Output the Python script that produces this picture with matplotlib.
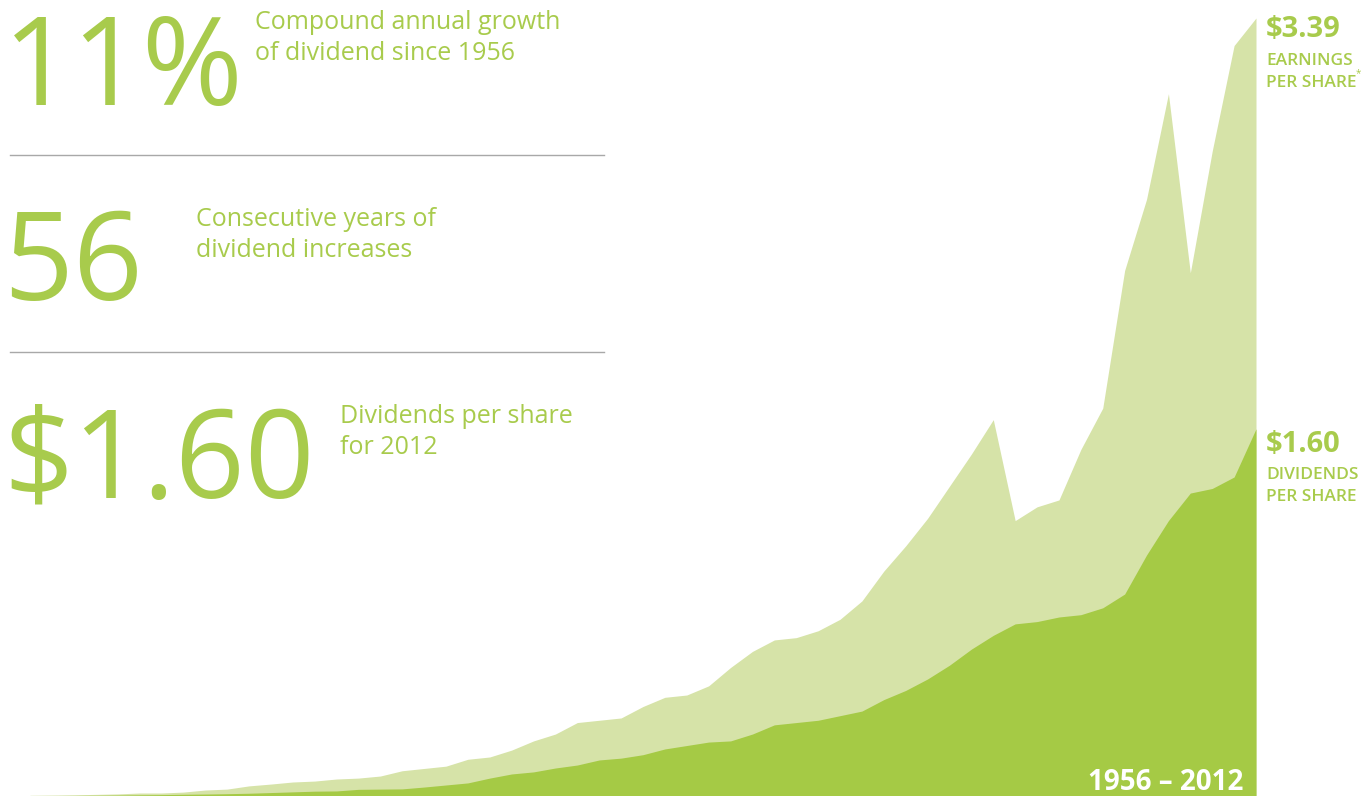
import numpy as np
import matplotlib.pyplot as plt
from matplotlib import font_manager

# годы и значения (долл. на акцию)
years = list(range(1956, 2013))
earnings = [0.003, 0.004, 0.005, 0.007, 0.009, 0.013, 0.013, 0.017, 0.026, 0.030,
            0.044, 0.052, 0.061, 0.065, 0.074, 0.078, 0.087, 0.11, 0.12, 0.13,
            0.16, 0.17, 0.20, 0.24, 0.27, 0.32, 0.33, 0.34, 0.39, 0.43,
            0.44, 0.48, 0.56, 0.63, 0.68, 0.69, 0.72, 0.77, 0.85, 0.98,
            1.09, 1.21, 1.35, 1.49, 1.64, 1.20, 1.26, 1.29, 1.51, 1.69,
            2.29, 2.60, 3.06, 2.28, 2.81, 3.27, 3.39]
dividends = [0.0015, 0.002, 0.0025, 0.003, 0.004, 0.005, 0.006, 0.0075, 0.0085, 0.010,
             0.012, 0.015, 0.018, 0.021, 0.022, 0.029, 0.030, 0.031, 0.039, 0.048,
             0.057, 0.078, 0.096, 0.105, 0.122, 0.135, 0.157, 0.165, 0.18, 0.205,
             0.22, 0.235, 0.24, 0.27, 0.31, 0.32, 0.33, 0.35, 0.37, 0.42,
             0.46, 0.51, 0.57, 0.64, 0.70, 0.75, 0.76, 0.78, 0.79, 0.82,
             0.88, 1.05, 1.20, 1.32, 1.34, 1.39, 1.60]

stats = ["11%", "56", "$1.60"]
stat_notes = ["Compound annual growth\nof dividend since 1956",
              "Consecutive years of\ndividend increases",
              "Dividends per share\nfor 2012"]

dark = "#a5ca45"
light = "#d6e3a8"
txt = "#a8cb4c"

names = {f.name for f in font_manager.fontManager.ttflist}
font = "Liberation Sans Narrow" if "Liberation Sans Narrow" in names else "Open Sans"

W, H = 1362, 796
fig = plt.figure(figsize=(W / 100, H / 100), dpi=100)
ax = fig.add_axes([0, 0, 1, 1])
ax.fill_between(years, earnings, color=light, lw=0)
ax.fill_between(years, dividends, color=dark, lw=0)
px_per_year = (1256 - 30) / 56
ax.set_xlim(1956 - 30 / px_per_year, 2012 + (W - 1256) / px_per_year)
ax.set_ylim(0, 3.39 * H / (H - 18))
ax.axis("off")


def put(x, y, s, **kw):
    fig.text(x / W, 1 - y / H, s, va="baseline", ha="left", **kw)


# левый блок с цифрами
big_x = [3, 3, 3]
big_base = [105, 300, 498]
note_x = [255, 196, 340]
note_base = [29, 226, 423]
for s, n, bx, bb, nx, nb in zip(stats, stat_notes, big_x, big_base, note_x, note_base):
    put(bx, bb, s, color=txt, fontsize=88, family=font)
    for i, line in enumerate(n.split("\n")):
        put(nx, nb + i * 31, line, color=txt, fontsize=18, family=font)

for y in [155, 352]:
    fig.add_artist(plt.Line2D([10 / W, 604 / W], [1 - y / H] * 2, color="#a8a8a8", lw=1))

# подписи справа
put(1266, 37, "$3.39", color=txt, fontsize=21, weight="bold", family=font)
put(1266, 65, "EARNINGS", color=txt, fontsize=12.5, weight="semibold", family=font)
put(1266, 87, "PER SHARE", color=txt, fontsize=12.5, weight="semibold", family=font)
put(1356, 76, "*", color=txt, fontsize=7, family=font)
put(1266, 452, "$1.60", color=txt, fontsize=21, weight="bold", family=font)
put(1266, 479, "DIVIDENDS", color=txt, fontsize=12.5, weight="semibold", family=font)
put(1266, 501, "PER SHARE", color=txt, fontsize=12.5, weight="semibold", family=font)

put(1088, 790, "1956 \u2013 2012", color="white", fontsize=20, weight="bold", family=font)

fig.savefig("out.png", dpi=100)
